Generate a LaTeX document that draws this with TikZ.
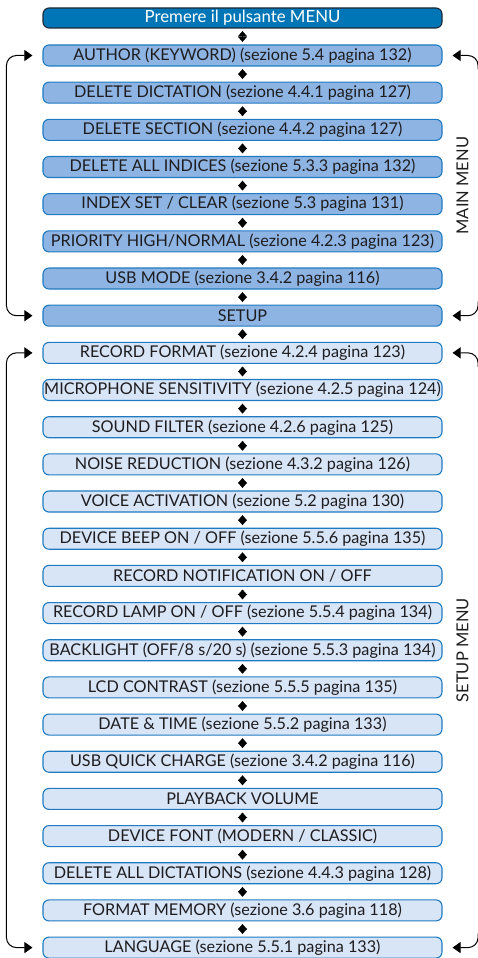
\documentclass[tikz,border=0pt]{standalone}
\usepackage{fontspec}
\setmainfont{Lato}
\usetikzlibrary{calc, positioning}
\usetikzlibrary{arrows.meta}

\definecolor{topfill}{RGB}{0,118,182}
\definecolor{topline}{RGB}{30,40,55}
\definecolor{mainfill}{RGB}{142,180,227}
\definecolor{setfill}{RGB}{215,229,247}
\definecolor{boxline}{RGB}{31,123,193}
\definecolor{textgray}{RGB}{30,28,30}

\begin{document}
\begin{tikzpicture}[x=1pt,y=-1pt, node distance=15.07pt,
    box/.style={draw=boxline, line width=1.1pt, rounded corners=6pt,
        minimum width=399pt, minimum height=21pt, inner sep=0pt,
        text=textgray, font=\fontsize{16.2}{18}\selectfont},
    mainbox/.style={box, fill=mainfill},
    setbox/.style={box, fill=setfill},
    updown/.style={line width=0.4pt, shorten <=2.6pt, shorten >=2.6pt,
        {Triangle[width=9pt,length=5.2pt]}-{Triangle[width=9pt,length=5.2pt]}},
    loopline/.style={line width=1pt, rounded corners=10pt,
        {Triangle[width=11pt,length=8pt]}-{Triangle[width=11pt,length=8pt]}},
    hook/.style={line width=1pt, rounded corners=10pt,
        -{Triangle[width=11pt,length=8pt]}},
    menulabel/.style={rotate=90, text=textgray, font=\fontsize{16.5}{18}\selectfont}]
\useasboundingbox (0,0) rectangle (478,958);

% Start box
\node[box, draw=topline, fill=topfill, text=white, minimum height=20pt,
    font=\fontsize{16.8}{18}\selectfont] (start) at (242.5,18) {Premere il pulsante MENU};

% Main menu
\node[mainbox, below=15.9pt of start] (author) {AUTHOR (KEYWORD) (sezione 5.4 pagina 132)};
\node[mainbox, below=of author] (delDict) {DELETE DICTATION (sezione 4.4.1 pagina 127)};
\node[mainbox, below=of delDict] (delSect) {DELETE SECTION (sezione 4.4.2 pagina 127)};
\node[mainbox, below=of delSect] (delIdx) {DELETE ALL INDICES (sezione 5.3.3 pagina 132)};
\node[mainbox, below=of delIdx] (idxSet) {INDEX SET / CLEAR (sezione 5.3 pagina 131)};
\node[mainbox, below=of idxSet] (prio) {PRIORITY HIGH/NORMAL (sezione 4.2.3 pagina 123)};
\node[mainbox, below=of prio] (usbMode) {USB MODE (sezione 3.4.2 pagina 116)};
\node[mainbox, below=of usbMode] (setup) {SETUP};

% Setup menu
\node[setbox, below=of setup] (recFmt) {RECORD FORMAT (sezione 4.2.4 pagina 123)};
\node[setbox, below=of recFmt] (micSens) {MICROPHONE SENSITIVITY (sezione 4.2.5 pagina 124)};
\node[setbox, below=of micSens] (sndFilt) {SOUND FILTER (sezione 4.2.6 pagina 125)};
\node[setbox, below=of sndFilt] (noise) {NOISE REDUCTION (sezione 4.3.2 pagina 126)};
\node[setbox, below=of noise] (voice) {VOICE ACTIVATION (sezione 5.2 pagina 130)};
\node[setbox, below=of voice] (beep) {DEVICE BEEP ON / OFF (sezione 5.5.6 pagina 135)};
\node[setbox, below=of beep] (recNote) {RECORD NOTIFICATION ON / OFF};
\node[setbox, below=of recNote] (recLamp) {RECORD LAMP ON / OFF (sezione 5.5.4 pagina 134)};
\node[setbox, below=of recLamp] (backl) {BACKLIGHT (OFF/8 s/20 s) (sezione 5.5.3 pagina 134)};
\node[setbox, below=of backl] (lcd) {LCD CONTRAST (sezione 5.5.5 pagina 135)};
\node[setbox, below=of lcd] (dateTime) {DATE \& TIME (sezione 5.5.2 pagina 133)};
\node[setbox, below=of dateTime] (usbCharge) {USB QUICK CHARGE (sezione 3.4.2 pagina 116)};
\node[setbox, below=of usbCharge] (playVol) {PLAYBACK VOLUME};
\node[setbox, below=of playVol] (devFont) {DEVICE FONT (MODERN / CLASSIC)};
\node[setbox, below=of devFont] (delAll) {DELETE ALL DICTATIONS (sezione 4.4.3 pagina 128)};
\node[setbox, below=of delAll] (fmtMem) {FORMAT MEMORY (sezione 3.6 pagina 118)};
\node[setbox, below=of fmtMem] (lang) {LANGUAGE (sezione 5.5.1 pagina 133)};

% Up/down arrows between boxes
\foreach \a/\b in {start/author, author/delDict, delDict/delSect, delSect/delIdx,
    delIdx/idxSet, idxSet/prio, prio/usbMode, usbMode/setup, setup/recFmt,
    recFmt/micSens, micSens/sndFilt, sndFilt/noise, noise/voice, voice/beep,
    beep/recNote, recNote/recLamp, recLamp/backl, backl/lcd, lcd/dateTime,
    dateTime/usbCharge, usbCharge/playVol, playVol/devFont, devFont/delAll,
    delAll/fmtMem, fmtMem/lang}
    \draw[updown] (\a.south) -- (\b.north);

% Wrap-around loops, left side
\draw[loopline] ($(author.west)+(-10,0)$) -| ($(setup.west)+(-36,0)$)
    -- ($(setup.west)+(-10,0)$);
\draw[loopline] ($(recFmt.west)+(-10,0)$) -| ($(lang.west)+(-36,0)$)
    -- ($(lang.west)+(-10,0)$);

% Wrap-around hooks, right side
\draw[hook] ($(author.east)+(35.5,14)$) |- ($(author.east)+(10,0)$);
\draw[hook] ($(setup.east)+(35.5,-14)$) |- ($(setup.east)+(10,0)$);
\draw[hook] ($(recFmt.east)+(35.5,14)$) |- ($(recFmt.east)+(10,0)$);
\draw[hook] ($(lang.east)+(35.5,-14)$) |- ($(lang.east)+(10,0)$);

% Menu labels
\node[menulabel] (mainLbl) at ($(author.east)!0.5!(setup.east)+(20,0)$) {MAIN MENU};
\node[menulabel] (setLbl) at ($(recFmt.east)!0.5!(lang.east)+(20,0)$) {SETUP MENU};
\end{tikzpicture}
\end{document}
